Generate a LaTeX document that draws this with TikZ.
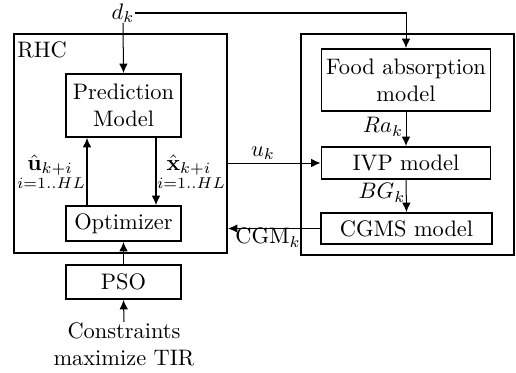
\documentclass[tikz,border=0pt]{standalone}
\usetikzlibrary{arrows.meta}
\newcommand\pxu{0.4464pt}
\begin{document}
\begin{tikzpicture}[x=0.4464pt,y=-0.4464pt,
  box/.style={draw,line width=0.85pt,inner sep=0pt,align=center},
  frame/.style={draw,line width=0.95pt,inner sep=0pt},
  arr/.style={line width=0.45pt,-{Latex[length=4.2pt,width=3.8pt]}},
  lab/.style={inner sep=0pt}]
\useasboundingbox (0,0) rectangle (516,372);
% outer frames
\node[frame,minimum width=213*\pxu,minimum height=219*\pxu] (rhc) at (120.5,143.5) {};
\node[frame,minimum width=213*\pxu,minimum height=221*\pxu] (plant) at (407.5,144.5) {};
\node[lab] (rhclab) at (42,50) {RHC};
% RHC blocks
\node[box,minimum width=115*\pxu,minimum height=63*\pxu] (pred) at (123.5,105.5) {Prediction\\Model};
\node[box,minimum width=115*\pxu,minimum height=35*\pxu] (opt) at (123.5,223.5) {Optimizer};
\node[box,minimum width=115*\pxu,minimum height=34*\pxu] (pso) at (123.5,282) {PSO};
\node[lab,align=center] (cons) at (124,344) {Constraints\\maximize TIR};
% plant blocks
\node[box,minimum width=169*\pxu,minimum height=62*\pxu] (food) at (406,80) {Food absorption\\model};
\node[box,minimum width=169*\pxu,minimum height=32*\pxu] (ivp) at (406,163) {IVP model};
\node[box,minimum width=171*\pxu,minimum height=31*\pxu] (cgms) at (406.5,228.5) {CGMS model};
% input
\node[lab] (dk) at (123,13) {$d_k$};
\coordinate (ux) at (87,0);
\coordinate (xx) at (156,0);
% connectors
\draw[arr] (dk.south) -- (pred.north);
\draw[arr] (dk.east) -| (food.north);
\draw[arr] (opt.north -| ux) -- (pred.south -| ux);
\draw[arr] (pred.south -| xx) -- (opt.north -| xx);
\draw[arr] (pso.north) -- (opt.south);
\draw[arr] (cons.north) -- (pso.south);
\draw[arr] (ivp.west -| rhc.east) -- (ivp.west);
\draw[arr] (cgms.west) -- (cgms.west -| rhc.east);
\draw[arr] (food.south) -- (ivp.north);
\draw[arr] (ivp.south) -- (cgms.north);
% labels
\node[lab] (ul) at (50,165) {$\hat{\mathbf{u}}_{k+i}$};
\node[lab] (uil) at (51,183) {$\scriptstyle i=1..HL$};
\node[lab] (xl) at (189,165) {$\hat{\mathbf{x}}_{k+i}$};
\node[lab] (xil) at (191,183) {$\scriptstyle i=1..HL$};
\node[lab] (ukl) at (263,153) {$u_k$};
\node[lab] (cgml) at (268,238) {$\mathrm{CGM}_k$};
\node[lab] (ral) at (383,127) {$Ra_k$};
\node[lab] (bgl) at (382,193) {$BG_k$};
\end{tikzpicture}
\end{document}
